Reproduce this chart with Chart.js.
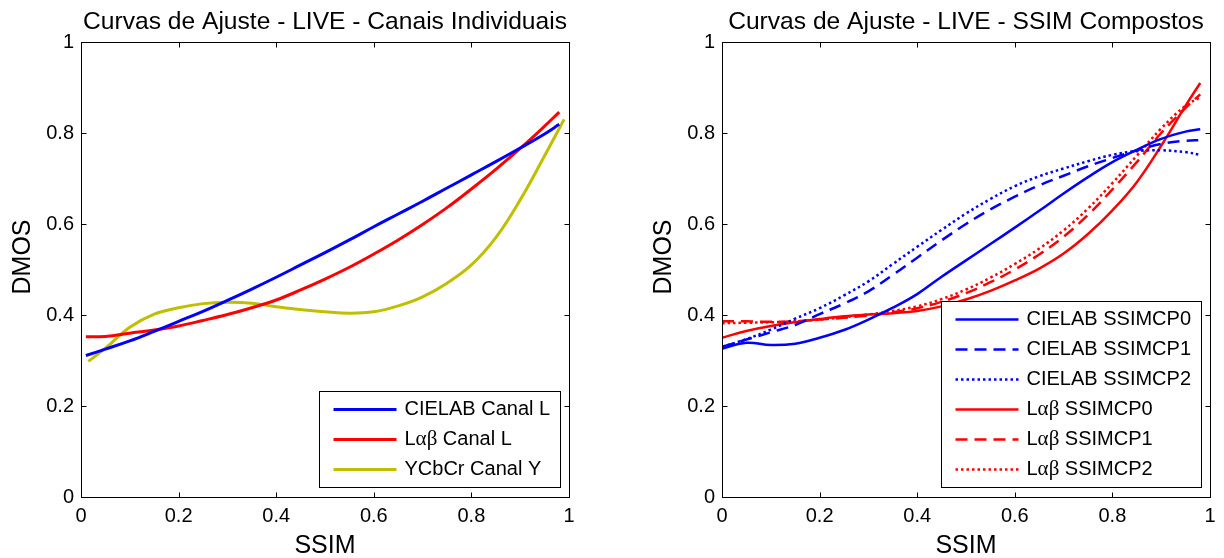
<!DOCTYPE html>
<html>
<head>
<meta charset="utf-8">
<script src="https://cdn.jsdelivr.net/npm/chart.js@4.4.0/dist/chart.umd.min.js"></script>
<style>
    html, body { margin: 0; padding: 0; background: #fff; }
    #wrap { position: relative; width: 1224px; height: 558px; overflow: hidden; }
    .panel { position: absolute; top: 0; width: 612px; height: 558px; }
</style>
</head>
<body>
<div id="wrap">
    <div class="panel" style="left:0"><canvas id="chartLeft" width="612" height="558"></canvas></div>
    <div class="panel" style="left:612px"><canvas id="chartRight" width="612" height="558"></canvas></div>
</div>
<script>
// Axis ticks
const xTickValues = [0, 0.2, 0.4, 0.6, 0.8, 1];
const xTickLabels = ['0', '0.2', '0.4', '0.6', '0.8', '1'];
const yTickValues = [0, 0.2, 0.4, 0.6, 0.8, 1];
const yTickLabels = ['0', '0.2', '0.4', '0.6', '0.8', '1'];

// Left plot - individual channels
const ssimGridLeft = [0.01, 0.05, 0.1, 0.15, 0.2, 0.25, 0.3, 0.35, 0.4, 0.45, 0.5, 0.55, 0.6, 0.65, 0.7, 0.75, 0.8, 0.85, 0.9, 0.95, 0.98];
const cielabCanalL = [0.311, 0.325, 0.343, 0.364, 0.386, 0.408, 0.432, 0.457, 0.483, 0.510, 0.537, 0.565, 0.594, 0.622, 0.650, 0.679, 0.708, 0.737, 0.767, 0.798, 0.819];
const labCanalL = [0.352, 0.353, 0.360, 0.367, 0.376, 0.388, 0.401, 0.416, 0.433, 0.455, 0.479, 0.505, 0.534, 0.565, 0.599, 0.636, 0.677, 0.720, 0.766, 0.815, 0.846];
const ssimGridY = [0.015, 0.05, 0.1, 0.15, 0.2, 0.25, 0.3, 0.35, 0.4, 0.45, 0.5, 0.55, 0.6, 0.65, 0.7, 0.75, 0.8, 0.85, 0.9, 0.95, 0.99];
const ycbcrCanalY = [0.298, 0.327, 0.373, 0.402, 0.416, 0.425, 0.428, 0.426, 0.418, 0.412, 0.407, 0.404, 0.407, 0.420, 0.440, 0.470, 0.510, 0.570, 0.653, 0.750, 0.830];

// Right plot - composite SSIM
const ssimGridRight = [0, 0.05, 0.1, 0.15, 0.2, 0.25, 0.3, 0.35, 0.4, 0.45, 0.5, 0.55, 0.6, 0.65, 0.7, 0.75, 0.8, 0.85, 0.9, 0.95, 0.98];
const cielabCP0 = [0.326, 0.339, 0.334, 0.337, 0.350, 0.367, 0.390, 0.416, 0.446, 0.484, 0.520, 0.556, 0.592, 0.629, 0.667, 0.703, 0.736, 0.763, 0.787, 0.803, 0.808];
const cielabCP1 = [0.330, 0.346, 0.362, 0.378, 0.402, 0.425, 0.452, 0.488, 0.526, 0.564, 0.600, 0.632, 0.660, 0.685, 0.706, 0.727, 0.745, 0.762, 0.776, 0.783, 0.784];
const cielabCP2 = [0.330, 0.347, 0.368, 0.392, 0.415, 0.443, 0.474, 0.512, 0.550, 0.587, 0.623, 0.655, 0.683, 0.705, 0.722, 0.738, 0.752, 0.760, 0.762, 0.758, 0.752];
const labCP0 = [0.350, 0.365, 0.376, 0.384, 0.391, 0.397, 0.401, 0.404, 0.409, 0.419, 0.434, 0.453, 0.476, 0.502, 0.535, 0.578, 0.630, 0.692, 0.772, 0.860, 0.910];
const labCP1 = [0.386, 0.386, 0.385, 0.386, 0.390, 0.394, 0.399, 0.406, 0.415, 0.429, 0.448, 0.472, 0.500, 0.533, 0.572, 0.620, 0.676, 0.736, 0.800, 0.855, 0.885];
const labCP2 = [0.382, 0.383, 0.384, 0.386, 0.390, 0.395, 0.401, 0.409, 0.419, 0.435, 0.456, 0.482, 0.512, 0.546, 0.586, 0.634, 0.690, 0.750, 0.810, 0.860, 0.878];

const FONT = "'Liberation Sans', Arial, Helvetica, sans-serif";
const GREEK_FONT = "21px 'Liberation Serif', 'DejaVu Serif', serif";
const DASHED = [12, 7];
const DOTTED = [2.5, 3];

function pts(xs, ys) {
    return xs.map((x, i) => ({ x: x, y: ys[i] }));
}

function series(label, xs, ys, color, width, dash) {
    return {
        label: label,
        data: pts(xs, ys),
        borderColor: color,
        borderWidth: width,
        borderDash: dash || [],
        pointRadius: 0,
        fill: false,
        tension: 0.4
    };
}

// legend text: greek letters drawn in a serif face like the symbol font
function labelParts(text) {
    return text.split(/([αβ]+)/).filter(p => p.length);
}
function measureLabel(ctx, text) {
    let w = 0;
    labelParts(text).forEach(p => {
        ctx.font = /[αβ]/.test(p) ? GREEK_FONT : '20px ' + FONT;
        w += ctx.measureText(p).width;
    });
    return w;
}
function fillLabel(ctx, text, x, y) {
    labelParts(text).forEach(p => {
        ctx.font = /[αβ]/.test(p) ? GREEK_FONT : '20px ' + FONT;
        ctx.fillText(p, x, y);
        x += ctx.measureText(p).width;
    });
}

// box, inner ticks, titles and legend (matlab look)
const framePlugin = {
    id: 'frame',
    afterDraw(chart, args, opts) {
        const ctx = chart.ctx;
        const a = chart.chartArea;
        const xs = chart.scales.x, ys = chart.scales.y;
        const l = Math.round(a.left) + 0.5, r = Math.round(a.right) + 0.5;
        const t = Math.round(a.top) + 0.5, b = Math.round(a.bottom) + 0.5;
        ctx.save();
        ctx.strokeStyle = '#000';
        ctx.lineWidth = 1;
        ctx.setLineDash([]);
        ctx.strokeRect(l, t, r - l, b - t);
        ctx.beginPath();
        xs.ticks.forEach(tk => {
            const px = Math.round(xs.getPixelForValue(tk.value)) + 0.5;
            ctx.moveTo(px, b); ctx.lineTo(px, b - 5);
            ctx.moveTo(px, t); ctx.lineTo(px, t + 5);
        });
        ys.ticks.forEach(tk => {
            const py = Math.round(ys.getPixelForValue(tk.value)) + 0.5;
            ctx.moveTo(l, py); ctx.lineTo(l + 5, py);
            ctx.moveTo(r, py); ctx.lineTo(r - 5, py);
        });
        ctx.stroke();

        // titles
        const cx = (a.left + a.right) / 2;
        ctx.fillStyle = '#000';
        ctx.textAlign = 'center';
        ctx.textBaseline = 'alphabetic';
        ctx.font = '24.6px ' + FONT;
        ctx.fillText(opts.title, cx, 28.5);
        ctx.font = '25px ' + FONT;
        ctx.fillText('SSIM', cx, 553);
        ctx.save();
        ctx.translate(a.left - 57.5, 257);
        ctx.rotate(-Math.PI / 2);
        ctx.textBaseline = 'middle';
        ctx.fillText('DMOS', 0, 0);
        ctx.restore();

        // legend
        const sets = chart.data.datasets;
        let maxW = 0;
        sets.forEach(ds => { maxW = Math.max(maxW, measureLabel(ctx, ds.label)); });
        const bw = Math.round(14 + 63 + 8 + maxW + 10);
        const bh = 36 + 30 * (sets.length - 1);
        const bx = Math.round(a.right - 9 - bw) + 0.5;
        const by = Math.round(a.bottom - 10 - bh) + 0.5;
        ctx.fillStyle = '#fff';
        ctx.fillRect(bx, by, bw, bh);
        ctx.strokeStyle = '#000';
        ctx.lineWidth = 1;
        ctx.strokeRect(bx, by, bw, bh);
        ctx.textAlign = 'left';
        ctx.textBaseline = 'middle';
        sets.forEach((ds, i) => {
            const ry = by + 18 + 30 * i;
            ctx.beginPath();
            ctx.strokeStyle = ds.borderColor;
            ctx.lineWidth = ds.borderWidth;
            ctx.setLineDash(ds.borderDash);
            ctx.moveTo(bx + 14, ry);
            ctx.lineTo(bx + 77, ry);
            ctx.stroke();
            ctx.setLineDash([]);
            ctx.fillStyle = '#000';
            fillLabel(ctx, ds.label, bx + 85, ry);
        });
        ctx.restore();
    }
};

function makeChart(id, title, datasets, yWidth, padRight) {
    return new Chart(document.getElementById(id), {
        type: 'line',
        data: { datasets: datasets },
        options: {
            responsive: false,
            animation: false,
            events: [],
            layout: { padding: { left: 0, right: padRight, top: 42, bottom: 0 } },
            plugins: {
                legend: { display: false },
                tooltip: { enabled: false },
                frame: { title: title }
            },
            scales: {
                x: {
                    type: 'linear',
                    min: 0,
                    max: 1,
                    grid: { display: false, drawTicks: false },
                    border: { display: false },
                    afterBuildTicks: s => { s.ticks = xTickValues.map(v => ({ value: v })); },
                    afterFit: s => { s.height = 61; },
                    ticks: {
                        color: '#000',
                        font: { family: FONT, size: 20 },
                        padding: 7,
                        maxRotation: 0,
                        autoSkip: false,
                        callback: (v, i) => xTickLabels[i]
                    }
                },
                y: {
                    type: 'linear',
                    min: 0,
                    max: 1,
                    grid: { display: false, drawTicks: false },
                    border: { display: false },
                    afterBuildTicks: s => { s.ticks = yTickValues.map(v => ({ value: v })); },
                    afterFit: s => { s.width = yWidth; },
                    ticks: {
                        color: '#000',
                        font: { family: FONT, size: 20 },
                        padding: 7,
                        autoSkip: false,
                        callback: (v, i) => yTickLabels[i]
                    }
                }
            }
        },
        plugins: [framePlugin]
    });
}

document.addEventListener('DOMContentLoaded', function() {
    makeChart('chartLeft', 'Curvas de Ajuste - LIVE - Canais Individuais', [
        series('CIELAB Canal L', ssimGridLeft, cielabCanalL, '#0000ff', 3),
        series('Lαβ Canal L', ssimGridLeft, labCanalL, '#ff0000', 3),
        series('YCbCr Canal Y', ssimGridY, ycbcrCanalY, '#bfbf00', 3)
    ], 81, 43);

    makeChart('chartRight', 'Curvas de Ajuste - LIVE - SSIM Compostos', [
        series('CIELAB SSIMCP0', ssimGridRight, cielabCP0, '#0000ff', 2.5),
        series('CIELAB SSIMCP1', ssimGridRight, cielabCP1, '#0000ff', 2.5, DASHED),
        series('CIELAB SSIMCP2', ssimGridRight, cielabCP2, '#0000ff', 2.5, DOTTED),
        series('Lαβ SSIMCP0', ssimGridRight, labCP0, '#ff0000', 2.5),
        series('Lαβ SSIMCP1', ssimGridRight, labCP1, '#ff0000', 2.5, DASHED),
        series('Lαβ SSIMCP2', ssimGridRight, labCP2, '#ff0000', 2.5, DOTTED)
    ], 110, 14);
});
</script>
</body>
</html>
